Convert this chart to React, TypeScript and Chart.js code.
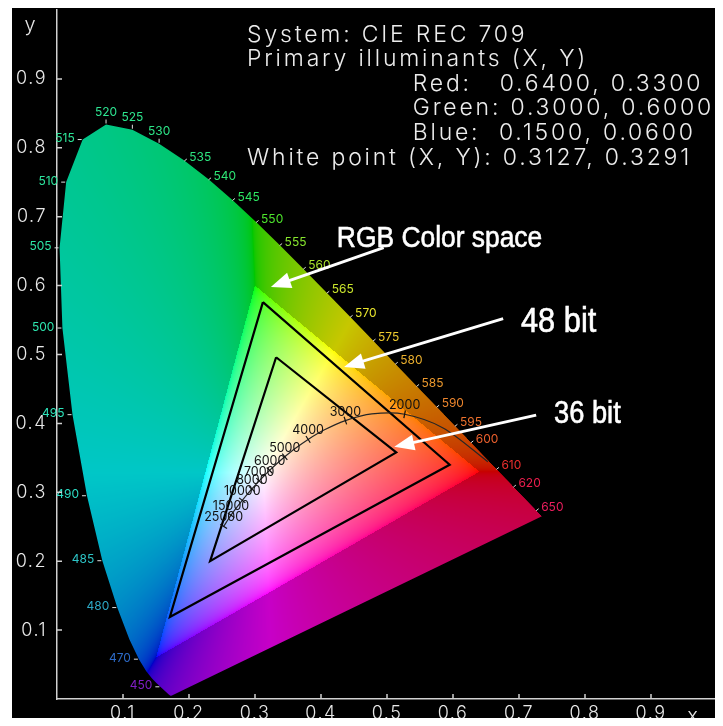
import React, { useEffect, useRef } from "react";
import { Chart, registerables } from "chart.js";

Chart.register(...registerables);

// ---- Spectral locus (CIE 1931 2°), nm / x / y ----
const WAVELENGTHS = [
  380, 385, 390, 395, 400, 405, 410, 415, 420, 425, 430, 435, 440, 445, 450, 455, 460, 465, 470, 475,
  480, 485, 490, 495, 500, 505, 510, 515, 520, 525, 530, 535, 540, 545, 550, 555, 560, 565, 570, 575,
  580, 585, 590, 595, 600, 605, 610, 615, 620, 625, 630, 635, 640, 645, 650, 655, 660, 665, 670, 675,
  680, 685, 690, 695, 700,
];
const LOCUS_X = [
  0.1741, 0.174, 0.1738, 0.1736, 0.1733, 0.173, 0.1726, 0.1721, 0.1714, 0.1703, 0.1689, 0.1669, 0.1644, 0.1611, 0.1566, 0.151, 0.144, 0.1355, 0.1241, 0.1096,
  0.0913, 0.0687, 0.0454, 0.0235, 0.0082, 0.0039, 0.0139, 0.0389, 0.0743, 0.1142, 0.1547, 0.1929, 0.2296, 0.2658, 0.3016, 0.3373, 0.3731, 0.4087, 0.4441, 0.4788,
  0.5125, 0.5448, 0.5752, 0.6029, 0.627, 0.6482, 0.6658, 0.6801, 0.6915, 0.7006, 0.7079, 0.714, 0.719, 0.723, 0.726, 0.7283, 0.73, 0.7311, 0.732, 0.7327,
  0.7334, 0.734, 0.7344, 0.7346, 0.7347,
];
const LOCUS_Y = [
  0.005, 0.005, 0.0049, 0.0049, 0.0048, 0.0048, 0.0048, 0.0048, 0.0051, 0.0058, 0.0069, 0.0086, 0.0109, 0.0138, 0.0177, 0.0227, 0.0297, 0.0399, 0.0578, 0.0868,
  0.1327, 0.2007, 0.295, 0.4127, 0.5384, 0.6548, 0.7502, 0.812, 0.8338, 0.8262, 0.8059, 0.7816, 0.7543, 0.7243, 0.6923, 0.6589, 0.6245, 0.5896, 0.5547, 0.5202,
  0.4866, 0.4544, 0.4242, 0.3965, 0.3725, 0.3514, 0.334, 0.3197, 0.3083, 0.2993, 0.292, 0.2859, 0.2809, 0.277, 0.274, 0.2717, 0.27, 0.2689, 0.268, 0.2673,
  0.2666, 0.266, 0.2656, 0.2654, 0.2653,
];
const WL_LABELS = [
  450, 470, 480, 485, 490, 495, 500, 505, 510, 515, 520, 525, 530, 535, 540, 545, 550, 555, 560, 565,
  570, 575, 580, 585, 590, 595, 600, 610, 620, 650,
];

// ---- Planckian locus ----
const PLANCK_T = [1000, 1500, 2000, 2500, 3000, 3500, 4000, 4500, 5000, 5500, 6000, 6500, 7000, 8000, 9000, 10000, 12000, 15000, 20000, 25000];
const PLANCK_X = [0.6528, 0.5857, 0.5267, 0.477, 0.4369, 0.4053, 0.3805, 0.3608, 0.3451, 0.3325, 0.3221, 0.3135, 0.3064, 0.2952, 0.2869, 0.2807, 0.272, 0.2637, 0.2565, 0.2525];
const PLANCK_Y = [0.3444, 0.3931, 0.4133, 0.4137, 0.4041, 0.3907, 0.3768, 0.3636, 0.3516, 0.3411, 0.3318, 0.3237, 0.3166, 0.3048, 0.2956, 0.2883, 0.2776, 0.2668, 0.2564, 0.2505];
const PLANCK_LABELS = [2000, 3000, 4000, 5000, 6000, 7000, 8000, 10000, 15000, 25000];

// ---- Triangles ----
const BIT48_X = [0.312, 0.595, 0.171];
const BIT48_Y = [0.576, 0.34, 0.119];
const BIT36_X = [0.332, 0.514, 0.232];
const BIT36_Y = [0.496, 0.358, 0.2];

// ---- Info text ----
const INFO_LINES = [
  "System: CIE REC 709",
  "Primary illuminants (X, Y)",
  "Red:   0.6400, 0.3300",
  "Green: 0.3000, 0.6000",
  "Blue:  0.1500, 0.0600",
  "White point (X, Y): 0.3127, 0.3291",
];
const INFO_INDENT = [false, false, true, true, true, false];

const ANNOTATIONS = [
  { text: "RGB Color space", size: 30, tx: 0.424, ty: 0.656, fx: 0.495, fy: 0.655, px: 0.324, py: 0.598 },
  { text: "48 bit", size: 35, tx: 0.703, ty: 0.533, fx: 0.676, fy: 0.552, px: 0.435, py: 0.482 },
  { text: "36 bit", size: 31, tx: 0.753, ty: 0.401, fx: 0.726, fy: 0.412, px: 0.511, py: 0.366 },
];

const HERSHEY = "Inter, 'DejaVu Sans', sans-serif";

const LUT = (() => {
  const a = new Uint8ClampedArray(4097);
  for (let i = 0; i <= 4096; i++) {
    const v = i / 4096;
    const g = v <= 0.0031308 ? 12.92 * v : 1.055 * Math.pow(v, 1 / 2.4) - 0.055;
    a[i] = Math.round(g * 255);
  }
  return a;
})();

function chromaRGB(x: number, y: number, dim: number): [number, number, number] {
  const X = x / y;
  const Z = (1 - x - y) / y;
  let r = 3.2406 * X - 1.5372 - 0.4986 * Z;
  let g = -0.9689 * X + 1.8758 + 0.0415 * Z;
  let b = 0.0557 * X - 0.204 + 1.057 * Z;
  const m = Math.min(r, g, b);
  let k = 1;
  if (m < 0) {
    r -= m;
    g -= m;
    b -= m;
    k = dim;
  }
  const mx = Math.max(r, g, b) || 1;
  return [
    LUT[Math.round((r / mx) * 4096)] * k,
    LUT[Math.round((g / mx) * 4096)] * k,
    LUT[Math.round((b / mx) * 4096)] * k,
  ];
}

const bgPlugin = {
  id: "bg",
  beforeDraw(chart: any) {
    const { ctx, width, height } = chart;
    ctx.save();
    ctx.fillStyle = "#000";
    ctx.fillRect(0, 0, width, height);
    ctx.restore();
    // wider glyph spacing for the axis tick labels, like the vector font of the original
    (ctx as any).letterSpacing = "1.5px";
  },
};

const gamutPlugin = {
  id: "gamut",
  beforeDatasetsDraw(chart: any) {
    const { ctx, chartArea } = chart;
    (ctx as any).letterSpacing = "0px";
    const xs = chart.scales.x;
    const ys = chart.scales.y;
    const left = Math.floor(chartArea.left);
    const top = Math.floor(chartArea.top);
    const w = Math.ceil(chartArea.right) - left;
    const h = Math.ceil(chartArea.bottom) - top;
    const off = document.createElement("canvas");
    off.width = w;
    off.height = h;
    const octx = off.getContext("2d")!;
    const img = octx.createImageData(w, h);
    const d = img.data;
    const xv = new Float64Array(w);
    for (let i = 0; i < w; i++) xv[i] = xs.getValueForPixel(left + i + 0.5);
    for (let j = 0; j < h; j++) {
      const yv = ys.getValueForPixel(top + j + 0.5);
      if (yv <= 0.002) continue;
      for (let i = 0; i < w; i++) {
        const x = xv[i];
        if (x <= 0 || x + yv >= 1) continue;
        const c = chromaRGB(x, yv, 0.78);
        const o = (j * w + i) * 4;
        d[o] = c[0];
        d[o + 1] = c[1];
        d[o + 2] = c[2];
        d[o + 3] = 255;
      }
    }
    octx.putImageData(img, 0, 0);
    const meta = chart.getDatasetMeta(0);
    ctx.save();
    ctx.beginPath();
    meta.data.forEach((p: any, i: number) => (i ? ctx.lineTo(p.x, p.y) : ctx.moveTo(p.x, p.y)));
    ctx.closePath();
    ctx.clip();
    ctx.drawImage(off, left, top);
    ctx.restore();
  },
};

const overlayPlugin = {
  id: "overlay",
  afterDatasetsDraw(chart: any) {
    const { ctx, chartArea } = chart;
    (ctx as any).letterSpacing = "0px";
    const xs = chart.scales.x;
    const ys = chart.scales.y;
    const X = (v: number) => xs.getPixelForValue(v);
    const Y = (v: number) => ys.getPixelForValue(v);

    // wavelength labels
    const locus = chart.getDatasetMeta(0).data;
    ctx.save();
    ctx.font = `400 12px ${HERSHEY}`;
    WL_LABELS.forEach((wl) => {
      const i = WAVELENGTHS.indexOf(wl);
      const p = locus[i];
      const c = chromaRGB(LOCUS_X[i], LOCUS_Y[i], 1);
      ctx.fillStyle = `rgb(${Math.round(c[0] * 0.75 + 45)},${Math.round(c[1] * 0.78 + 30)},${Math.round(c[2] * 0.6 + 45)})`;
      ctx.strokeStyle = "#e0e0e0";
      ctx.lineWidth = 1;
      ctx.beginPath();
      if (wl <= 515) {
        ctx.moveTo(p.x - 5, p.y);
        ctx.lineTo(p.x - 1, p.y);
        ctx.stroke();
        ctx.textAlign = "right";
        ctx.textBaseline = "middle";
        ctx.fillText(String(wl), p.x - 8, p.y - 1);
      } else if (wl <= 530) {
        ctx.moveTo(p.x, p.y - 1);
        ctx.lineTo(p.x, p.y - 5);
        ctx.stroke();
        ctx.textAlign = "center";
        ctx.textBaseline = "alphabetic";
        ctx.fillText(String(wl), p.x, p.y - 9);
      } else {
        ctx.moveTo(p.x, p.y + 0.5);
        ctx.lineTo(p.x + 2.5, p.y - 1.5);
        ctx.stroke();
        ctx.textAlign = "left";
        ctx.textBaseline = "middle";
        ctx.fillText(String(wl), p.x + 5, p.y - 3);
      }
    });
    ctx.restore();

    // Planckian labels and ticks
    const pl = chart.getDatasetMeta(1).data;
    ctx.save();
    ctx.font = `400 12.5px ${HERSHEY}`;
    ctx.fillStyle = "#111";
    ctx.strokeStyle = "#111";
    ctx.lineWidth = 1.2;
    ctx.textAlign = "center";
    ctx.textBaseline = "alphabetic";
    PLANCK_LABELS.forEach((t) => {
      const i = PLANCK_T.indexOf(t);
      const p = pl[i];
      const a = pl[Math.max(0, i - 1)];
      const b = pl[Math.min(pl.length - 1, i + 1)];
      let dx = b.x - a.x;
      let dy = b.y - a.y;
      const len = Math.hypot(dx, dy) || 1;
      dx /= len;
      dy /= len;
      ctx.beginPath();
      ctx.moveTo(p.x - dy * 4, p.y + dx * 4);
      ctx.lineTo(p.x + dy * 4, p.y - dx * 4);
      ctx.stroke();
      ctx.fillText(String(t), p.x, p.y - 5);
    });
    ctx.restore();

    // arrows and annotation texts
    ctx.save();
    ANNOTATIONS.forEach((a) => {
      const x1 = X(a.fx), y1 = Y(a.fy), x2 = X(a.px), y2 = Y(a.py);
      const ang = Math.atan2(y2 - y1, x2 - x1);
      const hl = 20, hw = 8;
      const bx = x2 - Math.cos(ang) * hl;
      const by = y2 - Math.sin(ang) * hl;
      ctx.strokeStyle = "#fff";
      ctx.fillStyle = "#fff";
      ctx.lineWidth = 3;
      ctx.beginPath();
      ctx.moveTo(x1, y1);
      ctx.lineTo(bx + Math.cos(ang) * 2, by + Math.sin(ang) * 2);
      ctx.stroke();
      ctx.beginPath();
      ctx.moveTo(x2, y2);
      ctx.lineTo(bx - Math.sin(ang) * hw, by + Math.cos(ang) * hw);
      ctx.lineTo(bx + Math.sin(ang) * hw, by - Math.cos(ang) * hw);
      ctx.closePath();
      ctx.fill();
      ctx.save();
      ctx.font = `400 ${a.size}px 'Liberation Sans', Arial, sans-serif`;
      ctx.textAlign = "left";
      ctx.textBaseline = "alphabetic";
      ctx.translate(X(a.tx), Y(a.ty));
      ctx.scale(0.88, 1);
      ctx.lineWidth = 0.6;
      ctx.fillText(a.text, 0, 0);
      ctx.strokeText(a.text, 0, 0);
      ctx.restore();
    });
    ctx.restore();

    // info block
    ctx.save();
    ctx.font = `300 23px ${HERSHEY}`;
    (ctx as any).letterSpacing = "2.8px";
    ctx.fillStyle = "#ececec";
    ctx.textAlign = "left";
    ctx.textBaseline = "alphabetic";
    const infoLeft = X(0.288);
    const indentLeft = X(0.539);
    const base = Y(0.954);
    INFO_LINES.forEach((line, i) => {
      ctx.fillText(line, INFO_INDENT[i] ? indentLeft : infoLeft, base + i * 24.6);
    });
    ctx.restore();

    // axis titles
    ctx.save();
    ctx.font = `300 20px ${HERSHEY}`;
    ctx.fillStyle = "#e6e6e6";
    ctx.textAlign = "center";
    ctx.textBaseline = "middle";
    ctx.fillText("y", chartArea.left - 27, Y(0.978));
    ctx.fillText("x", X(0.963), chartArea.bottom + 17);
    ctx.restore();
  },
  afterDraw(chart: any) {
    const { ctx, chartArea } = chart;
    const xs = chart.scales.x;
    const ys = chart.scales.y;
    ctx.save();
    ctx.strokeStyle = "#d0d0d0";
    ctx.lineWidth = 1.5;
    ctx.beginPath();
    xs.ticks.forEach((t: any) => {
      if (t.value <= 0.001 || t.value >= 0.999) return;
      const px = xs.getPixelForValue(t.value);
      ctx.moveTo(px, chartArea.bottom);
      ctx.lineTo(px, chartArea.bottom - 5);
    });
    ys.ticks.forEach((t: any) => {
      if (t.value <= 0.001 || t.value >= 0.999) return;
      const py = ys.getPixelForValue(t.value);
      ctx.moveTo(chartArea.left, py);
      ctx.lineTo(chartArea.left + 5, py);
    });
    ctx.stroke();
    ctx.restore();
  },
};

const tickCb = (v: any) => (v > 0.05 && v < 0.95 ? Number(v).toFixed(1) : null);

export default function App() {
  const ref = useRef<HTMLCanvasElement | null>(null);
  useEffect(() => {
    document.documentElement.style.overflow = "hidden";
    document.body.style.overflow = "hidden";
    const canvas = ref.current!;
    const tri = (xs: number[], ys: number[]) => [...xs, xs[0]].map((x, i) => ({ x, y: [...ys, ys[0]][i] }));
    const chart = new Chart(canvas, {
      type: "scatter",
      data: {
        datasets: [
          {
            label: "Spectral locus",
            data: WAVELENGTHS.map((_, i) => ({ x: LOCUS_X[i], y: LOCUS_Y[i] })),
            showLine: false,
            pointRadius: 0,
            borderWidth: 0,
          },
          {
            label: "Planckian locus",
            data: PLANCK_T.map((_, i) => ({ x: PLANCK_X[i], y: PLANCK_Y[i] })),
            showLine: true,
            borderColor: "#262626",
            borderWidth: 1.2,
            pointRadius: 0,
            tension: 0.3,
          },
          {
            label: "48 bit",
            data: tri(BIT48_X, BIT48_Y),
            showLine: true,
            borderColor: "#000",
            borderWidth: 2.2,
            pointRadius: 0,
            borderJoinStyle: "miter",
          },
          {
            label: "36 bit",
            data: tri(BIT36_X, BIT36_Y),
            showLine: true,
            borderColor: "#000",
            borderWidth: 2.2,
            pointRadius: 0,
            borderJoinStyle: "miter",
          },
        ],
      },
      options: {
        responsive: false,
        animation: false,
        events: [],
        layout: { padding: { top: 2, right: 0, left: 0, bottom: 0 } },
        plugins: { legend: { display: false }, tooltip: { enabled: false } },
        scales: {
          x: {
            type: "linear",
            min: 0,
            max: 1,
            afterFit: (s: any) => {
              s.height = 27;
              s.paddingLeft = 0;
              s.paddingRight = 0;
              s.paddingTop = 0;
              s.paddingBottom = 0;
            },
            grid: { display: false, drawTicks: false },
            border: { display: true, color: "#d0d0d0", width: 1.5 },
            ticks: {
              stepSize: 0.1,
              padding: 4,
              color: "#e8e8e8",
              font: { family: HERSHEY, size: 18, weight: 300 },
              callback: tickCb,
              maxRotation: 0,
              autoSkip: false,
            },
          },
          y: {
            type: "linear",
            min: 0,
            max: 1,
            afterFit: (s: any) => {
              s.width = 45;
              s.paddingLeft = 0;
              s.paddingRight = 0;
              s.paddingTop = 0;
              s.paddingBottom = 0;
            },
            grid: { display: false, drawTicks: false },
            border: { display: true, color: "#d0d0d0", width: 1.5 },
            ticks: {
              stepSize: 0.1,
              padding: 10,
              color: "#e8e8e8",
              font: { family: HERSHEY, size: 18, weight: 300 },
              callback: tickCb,
              autoSkip: false,
            },
          },
        },
      } as any,
      plugins: [bgPlugin, gamutPlugin, overlayPlugin],
    });
    return () => chart.destroy();
  }, []);
  return (
    <div style={{ width: 705, height: 718, marginLeft: 4, marginBottom: -8, background: "#000" }}>
      <canvas ref={ref} width={705} height={718} style={{ display: "block", width: 705, height: 718 }} />
    </div>
  );
}
